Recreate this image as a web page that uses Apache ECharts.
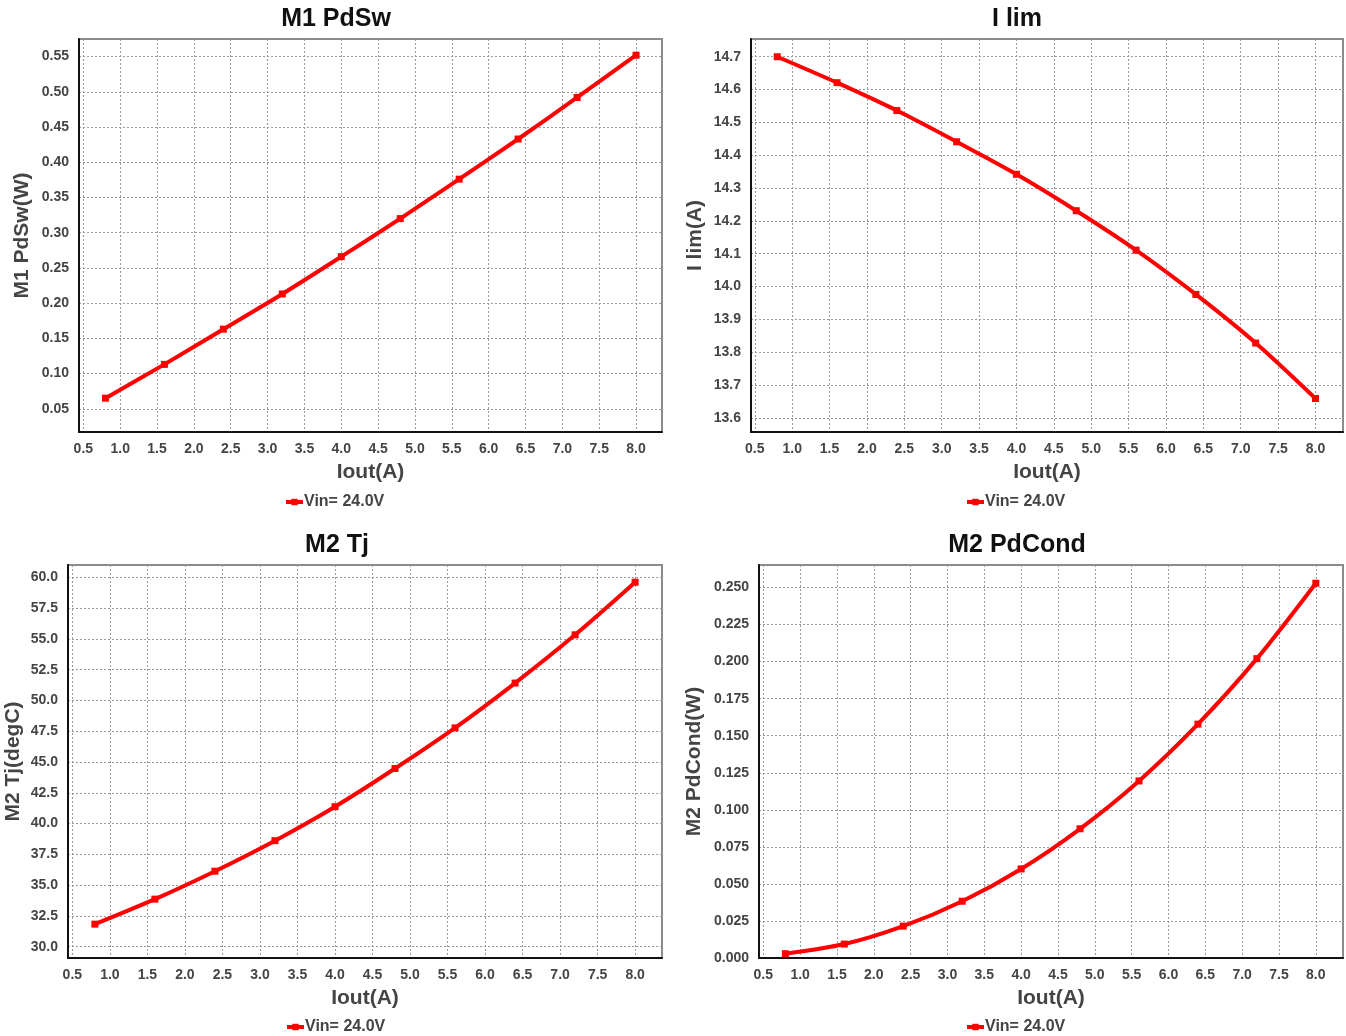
<!DOCTYPE html>
<html>
<head>
<meta charset="utf-8">
<script src="https://cdn.jsdelivr.net/npm/echarts@6/dist/echarts.min.js"></script>
<style>
  html, body { margin: 0; padding: 0; background: #fff; }
  #chart { width: 1346px; height: 1036px; }
</style>
</head>
<body>
<div id="chart"></div>
<script>
// Output current sweep (A)
const iout = [0.8, 1.6, 2.4, 3.2, 4.0, 4.8, 5.6, 6.4, 7.2, 8.0];
const xTicks = [0.5, 1.0, 1.5, 2.0, 2.5, 3.0, 3.5, 4.0, 4.5, 5.0, 5.5, 6.0, 6.5, 7.0, 7.5, 8.0];

// Vin = 24.0V results
const m1PdSw = [0.065, 0.113, 0.163, 0.213, 0.266, 0.320, 0.376, 0.433, 0.492, 0.552];
const iLim = [14.70, 14.621, 14.536, 14.441, 14.342, 14.231, 14.111, 13.976, 13.828, 13.659];
const m2Tj = [31.83, 33.86, 36.13, 38.61, 41.37, 44.47, 47.77, 51.41, 55.33, 59.6];
const m2PdCond = [0.0029, 0.0094, 0.0215, 0.0383, 0.0601, 0.0872, 0.1195, 0.1578, 0.202, 0.2529];

// Y tick labels per panel
const pdSwTicks = [0.05, 0.10, 0.15, 0.20, 0.25, 0.30, 0.35, 0.40, 0.45, 0.50, 0.55];
const iLimTicks = [13.6, 13.7, 13.8, 13.9, 14.0, 14.1, 14.2, 14.3, 14.4, 14.5, 14.6, 14.7];
const tjTicks = [30.0, 32.5, 35.0, 37.5, 40.0, 42.5, 45.0, 47.5, 50.0, 52.5, 55.0, 57.5, 60.0];
const pdCondTicks = [0.000, 0.025, 0.050, 0.075, 0.100, 0.125, 0.150, 0.175, 0.200, 0.225, 0.250];

const legendName = 'Vin= 24.0V';
const FONT = 'Liberation Sans, Arial, sans-serif';

const panels = [
  { title: 'M1 PdSw', yName: 'M1 PdSw(W)', data: m1PdSw, ticks: pdSwTicks, dec: 2,
    grid: { left: 79, top: 39, width: 583, height: 393 }, x: [0.441, 8.352], y: [0.017, 0.575],
    cx: 331, ty: 2, ly: 489, yGap: 46 },
  { title: 'I lim', yName: 'I lim(A)', data: iLim, ticks: iLimTicks, dec: 1,
    grid: { left: 751, top: 39, width: 592, height: 393 }, x: [0.449, 8.368], y: [13.557, 14.754],
    cx: 1012, ty: 2, ly: 489, yGap: 45 },
  { title: 'M2 Tj', yName: 'M2 Tj(degC)', data: m2Tj, ticks: tjTicks, dec: 1,
    grid: { left: 68, top: 565, width: 594, height: 393 }, x: [0.442, 8.358], y: [29.08, 61.0],
    cx: 332, ty: 528, ly: 1014, yGap: 44 },
  { title: 'M2 PdCond', yName: 'M2 PdCond(W)', data: m2PdCond, ticks: pdCondTicks, dec: 3,
    grid: { left: 759, top: 565, width: 584, height: 393 }, x: [0.442, 8.369], y: [0, 0.2652],
    cx: 1012, ty: 528, ly: 1014, yGap: 54 }
];

const gridLine = { show: true, lineStyle: { color: '#9a9a9a', width: 1, type: [2, 2] } };

const option = {
  animation: false,
  backgroundColor: '#ffffff',
  title: panels.map(p => ({
    text: p.title, left: p.cx, top: p.ty, textAlign: 'center',
    textStyle: { fontFamily: FONT, fontWeight: 'bold', fontSize: 25, color: '#111' }
  })),
  legend: panels.map((p, i) => ({
    seriesIndex: i, data: [legendName], left: p.cx - 52, top: p.ly,
    itemWidth: 17, itemHeight: 8, itemGap: 4,
    lineStyle: { width: 4 },
    textStyle: { fontFamily: FONT, fontWeight: 'bold', fontSize: 16, color: '#444', padding: [0, 0, 0, -4] }
  })),
  grid: panels.map(p => Object.assign({ show: true, borderColor: '#8c8c8c', borderWidth: 2, containLabel: false }, p.grid)),
  xAxis: panels.map((p, i) => ({
    type: 'value', gridIndex: i, min: p.x[0], max: p.x[1],
    name: 'Iout(A)', nameLocation: 'middle', nameGap: 30,
    nameTextStyle: { fontFamily: FONT, fontWeight: 'bold', fontSize: 21, color: '#444' },
    axisLine: { show: true, onZero: false, lineStyle: { color: '#111', width: 2 } },
    axisTick: { show: false, customValues: xTicks },
    axisLabel: { customValues: xTicks, margin: 10, hideOverlap: false,
      formatter: v => Number(v).toFixed(1),
      fontFamily: FONT, fontWeight: 'bold', fontSize: 14, color: '#444' },
    splitLine: gridLine
  })),
  yAxis: panels.map((p, i) => ({
    type: 'value', gridIndex: i, min: p.y[0], max: p.y[1],
    name: p.yName, nameLocation: 'middle', nameGap: p.yGap,
    nameTextStyle: { fontFamily: FONT, fontWeight: 'bold', fontSize: 21, color: '#444' },
    axisLine: { show: true, onZero: false, lineStyle: { color: '#111', width: 2 } },
    axisTick: { show: false, customValues: p.ticks },
    axisLabel: { customValues: p.ticks, margin: 10, hideOverlap: false,
      formatter: v => Number(v).toFixed(p.dec),
      fontFamily: FONT, fontWeight: 'bold', fontSize: 14, color: '#444' },
    splitLine: gridLine
  })),
  series: panels.map((p, i) => ({
    name: legendName, type: 'line', xAxisIndex: i, yAxisIndex: i,
    data: iout.map((x, k) => [x, p.data[k]]),
    smooth: 0.3, symbol: 'rect', symbolSize: 7, showSymbol: true,
    lineStyle: { color: '#ff0000', width: 4 },
    itemStyle: { color: '#ff0000' }
  }))
};

const chart = echarts.init(document.getElementById('chart'), null, { renderer: 'canvas' });
chart.setOption(option);
</script>
</body>
</html>
